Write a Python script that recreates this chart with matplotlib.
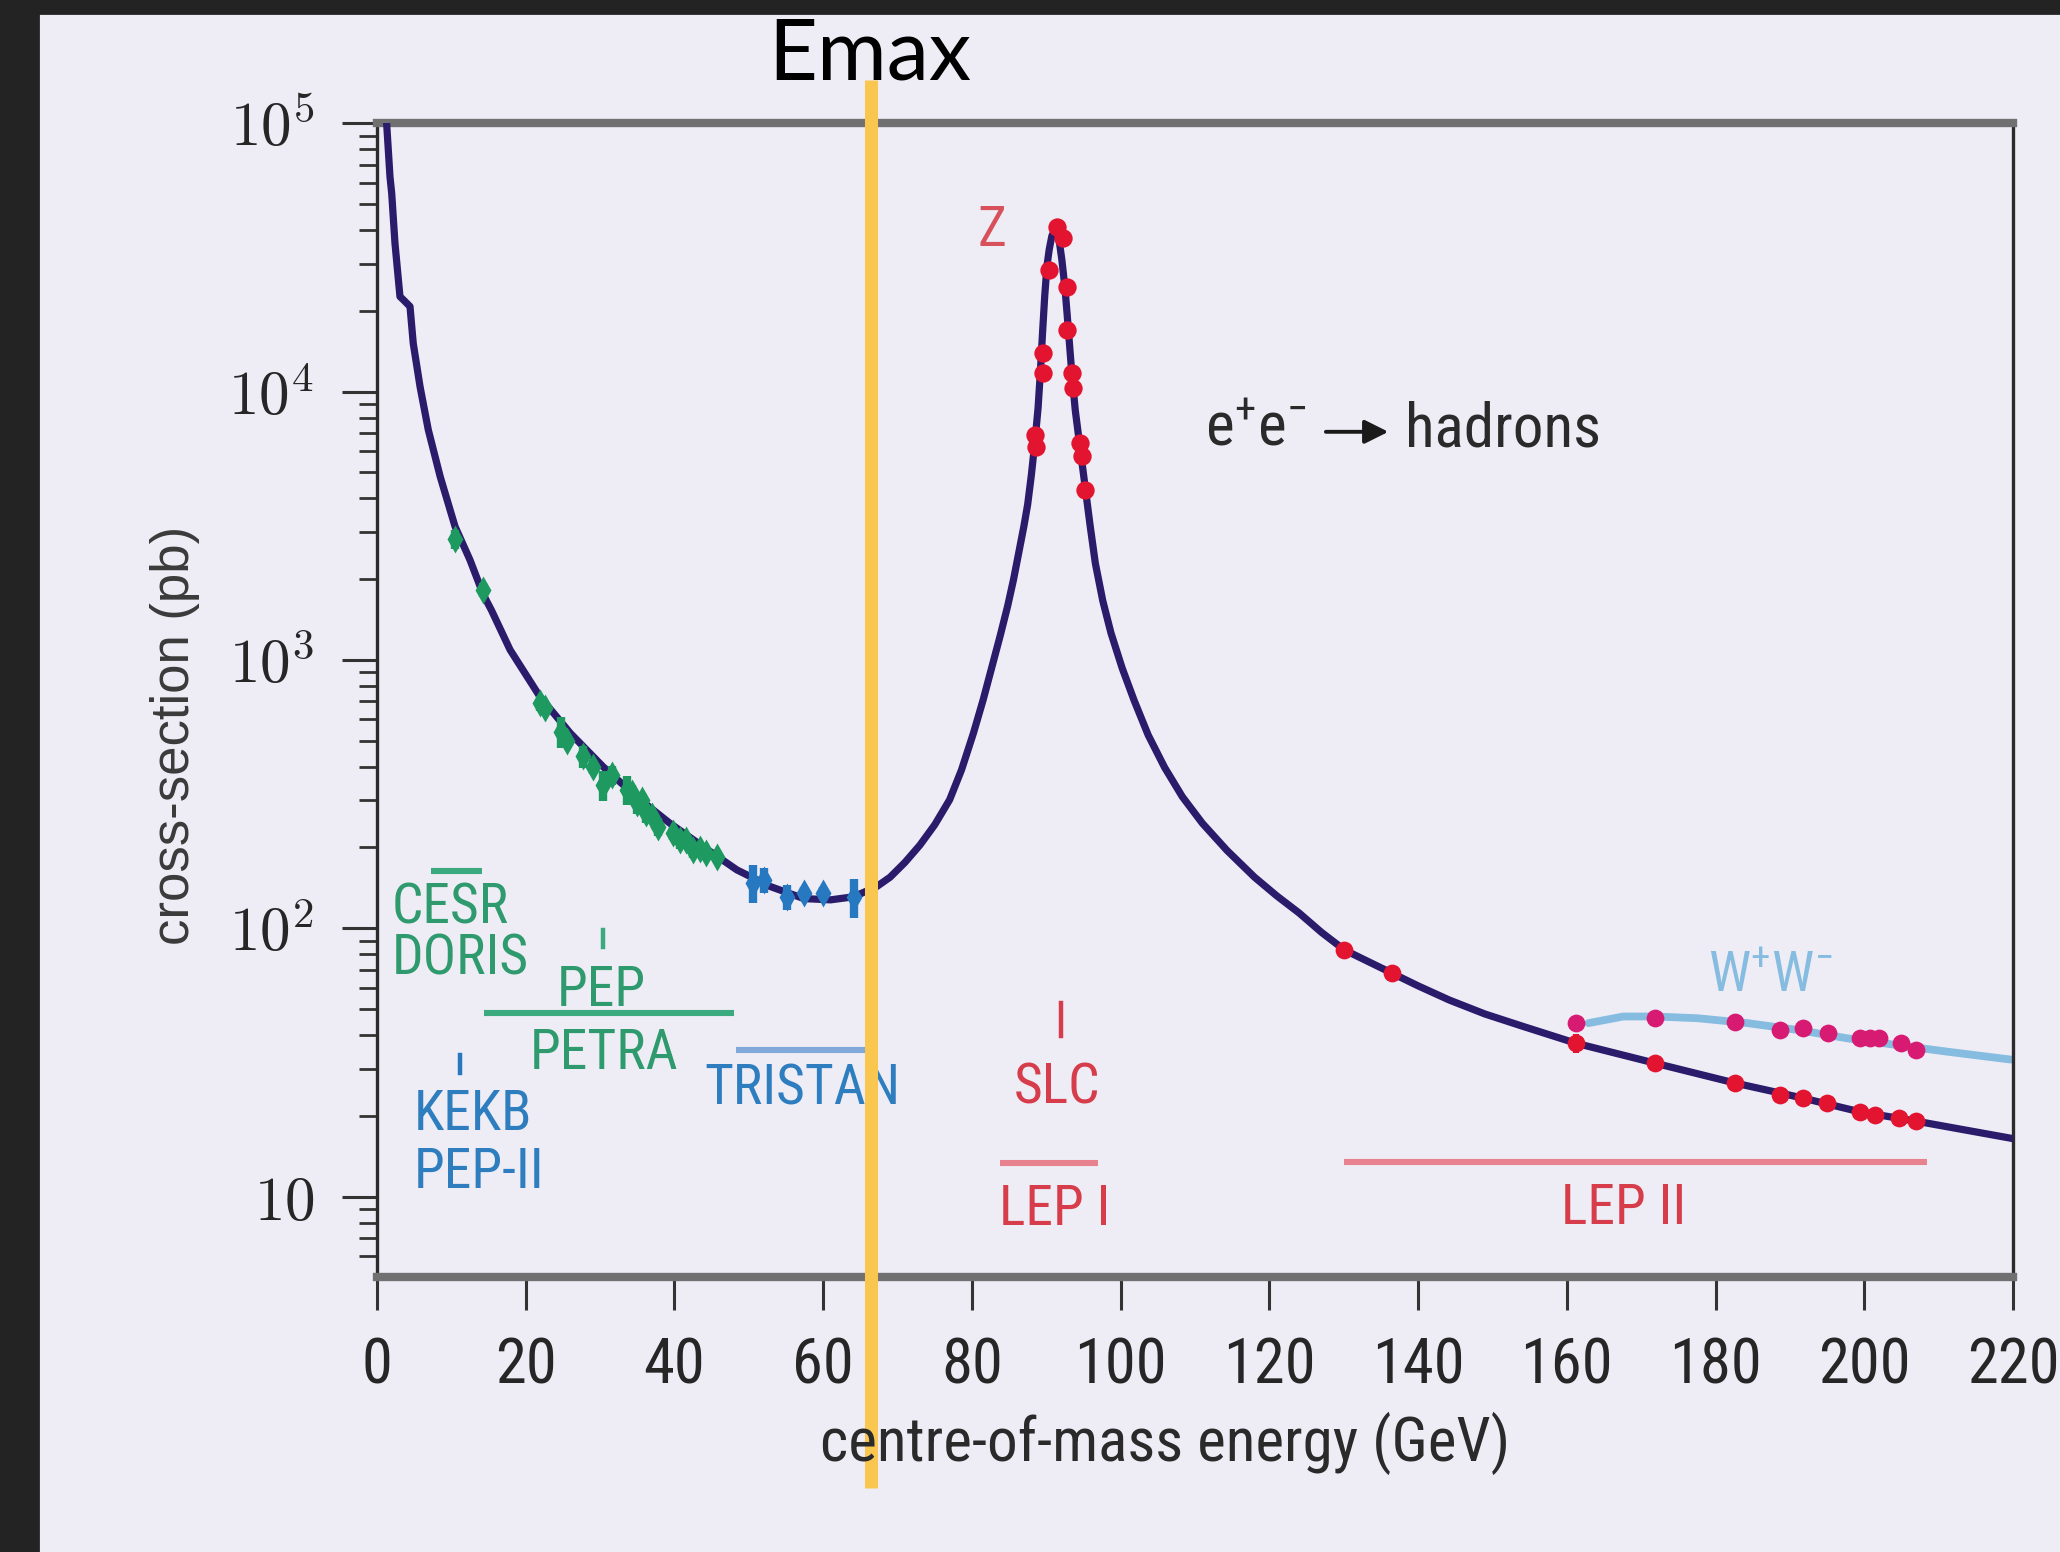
import matplotlib
matplotlib.use("Agg")
import matplotlib.pyplot as plt
from matplotlib import font_manager as fm
from matplotlib.patches import Rectangle
from matplotlib.ticker import FixedLocator, FixedFormatter, LogLocator, NullFormatter
import matplotlib.transforms as mtransforms

# ---------------------------------------------------------------- data
# Theory curve: e+e- -> hadrons cross-section (pb) vs centre-of-mass energy (GeV)
curve_E = [1.25, 1.75, 1.98, 2.42, 3.09, 3.6, 4.44, 4.88, 5.8, 6.9, 8.5, 10.5,
           12.5, 14.3, 15.4, 17.9, 21.9, 26.0, 30.4, 34.9, 39.4, 43.9, 48.4,
           52.9, 57.4, 61.0, 64.1, 67.2, 69.0, 71.0, 73.0, 75.0, 77.0, 78.6,
           80.2, 81.5, 82.7, 83.8, 84.8, 85.6, 86.3, 87.0, 87.5, 88.0, 88.5,
           88.9, 89.2, 89.5, 89.8, 90.1, 90.4, 90.75, 91.1, 91.4, 91.7, 92.1,
           92.5, 92.8, 93.0, 93.4, 93.9, 94.5, 95.2, 95.9, 96.6, 97.6, 98.7,
           100.2, 101.8, 103.7, 105.9, 108.3, 111.0, 114.3, 118.0, 121.0,
           124.0, 127.0, 130.1, 136.5, 140.0, 144.2, 149.0, 154.2, 161.2,
           171.9, 182.6, 191.7, 199.4, 207.0, 219.7]
curve_sigma = [105000, 63100, 54800, 35700, 22600, 21900, 20750, 15100, 10400,
               7200, 4820, 3140, 2360, 1750, 1530, 1090, 730, 533, 400, 309,
               246, 201, 165, 143, 129, 127.6, 131, 143, 155, 176, 204, 243,
               301, 389, 533, 708, 944, 1230, 1585, 1995, 2510, 3160, 3800,
               4900, 6610, 8710, 11750, 16600, 22900, 29500, 33900, 38000,
               39800, 39400, 37150, 30900, 24550, 19500, 16600, 12000, 8510,
               6310, 4470, 3160, 2290, 1660, 1260, 933, 708, 525, 398, 309,
               246, 195, 155, 132, 114, 96.6, 83, 68, 61, 54, 47.9, 43, 37.3,
               31.4, 26.5, 23.3, 20.7, 19.1, 16.5]

# W+W- contribution above threshold
ww_E = [162.9, 167.6, 171.9, 177.6, 184.3, 191.0, 197.7, 204.4, 211.1, 219.7]
ww_sigma = [44.3, 46.9, 46.9, 46.2, 44.3, 41.8, 38.9, 36.7, 34.7, 32.4]

# CESR / DORIS / PEP / PETRA measurements
low_E = [10.5, 14.3, 21.9, 22.6, 24.8, 25.6, 27.7, 29.0, 30.4, 31.6, 33.6,
         34.3, 34.9, 35.6, 36.2, 37.0, 37.8, 39.8, 40.8, 41.6, 42.5, 43.4,
         44.3, 45.7]
low_sigma = [2820, 1820, 690, 660, 541, 500, 437, 400, 342, 372, 328, 318,
             292, 300, 269, 262, 239, 226, 213, 214, 196, 198, 191, 185]
low_err = [220, 110, 45, 30, 70, 30, 40, 25, 45, 30, 40, 25, 25, 20, 22, 15,
           18, 12, 16, 10, 14, 10, 10, 9]

# TRISTAN measurements
tri_E = [50.6, 52.0, 55.1, 57.4, 60.0, 64.1]
tri_sigma = [148, 151, 131, 135, 135, 131]
tri_err = [24, 16, 14, 8, 8, 22]

# LEP I / SLC measurements around the Z pole
z_E = [91.4, 92.3, 90.4, 92.75, 92.8, 89.5, 89.6, 93.4, 93.6, 88.5, 88.6,
       94.5, 94.8, 95.2]
z_sigma = [41200, 37200, 28400, 24600, 17000, 13900, 11700, 11700, 10300,
           6890, 6240, 6430, 5730, 4300]

# LEP II measurements: total hadronic and W+W-
lep2_E = [130.1, 136.5, 161.2, 171.9, 182.6, 188.6, 191.7, 195.0, 199.4,
          201.4, 204.7, 207.0]
lep2_sigma = [83, 68, 37.3, 31.4, 26.5, 23.9, 23.3, 22.3, 20.7, 20.2, 19.6, 19.1]
lep2_err = [3, 3, 3, 2, 1.5, 1.2, 1.2, 1.2, 1, 1, 1, 1]
ww_pts_E = [161.2, 171.9, 182.6, 188.6, 191.7, 195.1, 199.4, 200.7, 202.0,
            205.0, 207.0]
ww_pts_sigma = [44.3, 46.2, 44.9, 41.8, 42.5, 40.6, 38.9, 38.9, 38.9, 37.3, 35.2]

# nominal maximum energy marked on the energy axis
Emax = 66.4

x_ticks = [0, 20, 40, 60, 80, 100, 120, 140, 160, 180, 200, 220]
y_ticks = [10, 1e2, 1e3, 1e4, 1e5]
y_tick_labels = [r"$10$", r"$10^{2}$", r"$10^{3}$", r"$10^{4}$", r"$10^{5}$"]


# ---------------------------------------------------------------- fonts
def narrow_font():
    """Return FontProperties for an installed condensed sans face, if any."""
    wanted = ["Liberation Sans Narrow", "Arial Narrow", "Roboto Condensed",
              "Noto Sans Condensed", "DejaVu Sans Condensed", "Open Sans Condensed",
              "PT Sans Narrow", "Ubuntu Condensed"]
    entries = fm.fontManager.ttflist
    for name in wanted:
        for f in entries:
            if f.name == name and f.style == "normal" and f.weight in (400, "normal", "regular"):
                return fm.FontProperties(fname=f.fname), 1.0
    for f in entries:
        if (f.stretch in ("condensed", "semi-condensed") and f.style == "normal"
                and f.weight in (400, "normal", "regular") and "Sans" in f.name):
            return fm.FontProperties(fname=f.fname), 1.0
    return fm.FontProperties(family=["Liberation Sans", "DejaVu Sans"]), 0.84


NARROW_FP, NSCALE = narrow_font()
NARROW_NAME = NARROW_FP.get_name() if NARROW_FP.get_file() else "Liberation Sans"


def nfp(size):
    fp = NARROW_FP.copy()
    fp.set_size(size * NSCALE)
    return fp


plt.rcParams["mathtext.fontset"] = "custom"
plt.rcParams["mathtext.rm"] = NARROW_NAME
plt.rcParams["mathtext.it"] = NARROW_NAME

# ---------------------------------------------------------------- style
BG = "#EEEDF6"
C_CURVE = "#2B1B6B"
C_WW = "#86BCE0"
C_GREEN_T = "#2E9A6E"
C_GREEN_B = "#3BAA7E"
C_GREEN_D = "#1E9A60"
C_BLUE_T = "#2D7DBF"
C_BLUE_B = "#80A8D8"
C_BLUE_D = "#2678C0"
C_RED_T = "#D63C4A"
C_RED_B = "#E8828E"
C_RED_D = "#E3142F"
C_MAG_D = "#D81B72"

fig = plt.figure(figsize=(10.3, 7.76), dpi=200, facecolor=BG)
ax = fig.add_axes([0.1830, 0.1774, 0.7942, 0.7432], facecolor=BG)

# dark frame strips at the left and top edge
fig.patches.append(Rectangle((0, 0), 38 / 2060, 1, transform=fig.transFigure,
                             color="#232323", zorder=0))
fig.patches.append(Rectangle((0, 1 - 13 / 1552), 1, 13 / 1552,
                             transform=fig.transFigure, color="#232323", zorder=0))

ax.set_yscale("log")
ax.set_xlim(0, 220)
ax.set_ylim(5.03, 1e5)

# theory curves
ax.plot(curve_E, curve_sigma, color=C_CURVE, lw=2.6, zorder=3,
        solid_joinstyle="round")
ax.plot(ww_E, ww_sigma, color=C_WW, lw=2.8, zorder=2, solid_capstyle="round")

# measurements
ax.errorbar(low_E, low_sigma, yerr=low_err, fmt="d", ms=7, color=C_GREEN_D,
            mec="none", elinewidth=3.0, capsize=0, zorder=4)
ax.errorbar(tri_E, tri_sigma, yerr=tri_err, fmt="d", ms=7, color=C_BLUE_D,
            mec="none", elinewidth=3.0, capsize=0, zorder=4)
ax.plot(z_E, z_sigma, "o", ms=6.6, color=C_RED_D, zorder=5, mec="none")
ax.errorbar(lep2_E, lep2_sigma, yerr=lep2_err, fmt="o", ms=6.4, color=C_RED_D,
            mec="none", elinewidth=2.2, capsize=0, zorder=5)
ax.plot(ww_pts_E, ww_pts_sigma, "o", ms=6.4, color=C_MAG_D, zorder=5, mec="none")

# accelerator energy ranges
ranges = [((7.2, 14.1), 164, C_GREEN_B), ((14.4, 48.0), 48.2, C_GREEN_B),
          ((48.3, 66.9), 35.2, C_BLUE_B), ((83.8, 96.9), 13.3, C_RED_B),
          ((130.1, 208.4), 13.4, C_RED_B)]
for (e0, e1), s, c in ranges:
    ax.plot([e0, e1], [s, s], color=c, lw=2.2, solid_capstyle="butt", zorder=2)
for e, s0, s1, c in [(30.4, 85.5, 98.4, C_GREEN_B), (11.1, 28.8, 33.7, C_BLUE_D),
                     (92.0, 39.8, 52.5, C_RED_T)]:
    ax.plot([e, e], [s0, s1], color=c, lw=1.6, zorder=2)

labels = [(2.0, 119, "CESR", C_GREEN_T, "left"),
          (2.0, 77, "DORIS", C_GREEN_T, "left"),
          (30.2, 58.5, "PEP", C_GREEN_T, "center"),
          (30.5, 34.0, "PETRA", C_GREEN_T, "center"),
          (4.9, 20.2, "KEKB", C_BLUE_T, "left"),
          (4.9, 12.3, "PEP-II", C_BLUE_T, "left"),
          (57.2, 25.2, "TRISTAN", C_BLUE_T, "center"),
          (91.5, 25.4, "SLC", C_RED_T, "center"),
          (91.1, 8.95, "LEP I", C_RED_T, "center"),
          (167.6, 9.0, "LEP II", C_RED_T, "center"),
          (82.7, 40000, "Z", "#D8505A", "center")]
for e, s, txt, c, ha in labels:
    ax.text(e, s, txt, color=c, ha=ha, va="center", fontproperties=nfp(20))
ax.text(187.3, 66, r"$\mathrm{W}^{+}\mathrm{W}^{-}$", color=C_WW,
        ha="center", va="center", fontsize=20 * NSCALE)

# process label with arrow
ax.text(111.4, 6240, r"$\mathrm{e}^{+}\mathrm{e}^{-}$", color="#2a2a2a",
        fontsize=22 * NSCALE, ha="left", va="baseline")
ax.annotate("", xy=(136.0, 7080), xytext=(127.6, 7080),
            arrowprops=dict(arrowstyle="-|>", color="#1a1a1a", lw=1.4,
                            mutation_scale=18, shrinkA=0, shrinkB=0))
ax.text(138.2, 6240, "hadrons", color="#2a2a2a", fontproperties=nfp(22),
        ha="left", va="baseline")

# axes, ticks, spines
ax.xaxis.set_major_locator(FixedLocator(x_ticks))
ax.set_xticklabels([str(t) for t in x_ticks], fontproperties=nfp(22.5),
                   color="#262626")
ax.yaxis.set_major_locator(FixedLocator(y_ticks))
ax.yaxis.set_major_formatter(FixedFormatter(y_tick_labels))
ax.yaxis.set_minor_locator(LogLocator(base=10, subs=range(2, 10), numticks=20))
ax.yaxis.set_minor_formatter(NullFormatter())
for t in ax.get_yticklabels():
    t.set_math_fontfamily("cm")
    t.set_fontsize(22)
    t.set_color("#262626")
ax.tick_params(axis="x", which="major", direction="out", length=12, width=1.1,
               color="#333333", pad=9.5, top=False)
ax.tick_params(axis="x", which="minor", bottom=False, top=False)
ax.tick_params(axis="y", which="major", direction="out", length=12.5, width=1.1,
               color="#333333", pad=10, right=False)
ax.tick_params(axis="y", which="minor", direction="out", length=6.6, width=1.0,
               color="#333333", right=False)
for side in ("top", "bottom"):
    ax.spines[side].set_linewidth(3.0)
    ax.spines[side].set_color("#707070")
for side in ("left", "right"):
    ax.spines[side].set_linewidth(1.2)
    ax.spines[side].set_color("#2b2b2b")

fig.text(0.085, 0.5264, "cross-section (pb)", rotation=90, ha="center",
         va="center", fontfamily=["Liberation Sans", "DejaVu Sans"], fontsize=19,
         color="#3a3a3a")
fig.text(0.5655, 0.0702, "centre-of-mass energy (GeV)", ha="center", va="center",
         fontproperties=nfp(22), color="#2a2a2a")

# Emax marker
trans = mtransforms.blended_transform_factory(ax.transData, ax.transAxes)
ax.plot([Emax, Emax], [1.0375, -0.1832], transform=trans, color="#F9C64F",
        lw=4.7, clip_on=False, zorder=10, solid_capstyle="butt")
fig.text(0.4223, 0.9485, "Emax", ha="center", va="baseline",
         fontfamily=["Lato", "DejaVu Sans"], fontsize=30.5, color="black")

fig.savefig("out.png", dpi=200, facecolor=BG)
